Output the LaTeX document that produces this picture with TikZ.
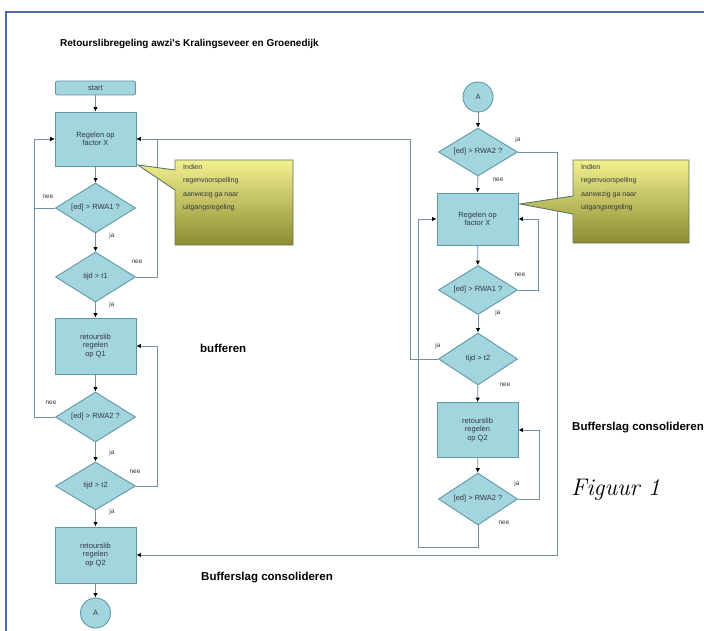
\documentclass[tikz,border=0pt]{standalone}
\usepackage{fontspec}
\newfontfamily\lab{Liberation Sans}
\usetikzlibrary{shapes.geometric,arrows.meta}
\definecolor{nodefill}{HTML}{A3D5DF}
\definecolor{nodeline}{HTML}{5E97A6}
\definecolor{wire}{HTML}{7090A8}
\definecolor{frame}{HTML}{4A6FA5}
\definecolor{calltop}{HTML}{F2F08E}
\definecolor{callbot}{HTML}{8C8C32}
\definecolor{callline}{HTML}{5C7A62}
\definecolor{inktext}{HTML}{333840}
\tikzset{
  boxnode/.style={draw=nodeline,fill=nodefill,line width=0.9pt,inner sep=1pt,align=center,text=inktext,font=\lab\fontsize{7.5}{8.5}\selectfont},
  procbox/.style={boxnode,rectangle,minimum width=81pt,minimum height=54pt},
  startbox/.style={boxnode,rectangle,rounded corners=2pt,minimum width=80pt,minimum height=14pt},
  decide/.style={boxnode,diamond,aspect=1.7,inner sep=0pt,minimum width=80pt,minimum height=50pt},
  conn/.style={boxnode,circle,minimum size=30pt,inner sep=0pt},
  flow/.style={draw=wire,line width=0.9pt,-{Latex[length=4.5pt,width=4.5pt,color=black]}},
  yn/.style={font=\lab\fontsize{6.5}{7}\selectfont,inner sep=0pt,text=inktext},
  heading/.style={font=\lab\bfseries\fontsize{10}{12}\selectfont,inner sep=0pt},
  sidehead/.style={font=\lab\bfseries\fontsize{11.5}{13}\selectfont,inner sep=0pt,anchor=west},
  callout/.style={draw=callline,line width=0.9pt,top color=calltop,bottom color=callbot},
  calltext/.style={font=\lab\fontsize{7}{13.5}\selectfont,align=left,inner sep=0pt,anchor=north west,text=inktext}
}
\begin{document}
\begin{tikzpicture}[x=1pt,y=-1pt]
\useasboundingbox (0,0) rectangle (704,631);
\fill[white] (0,0) rectangle (704,631);
\draw[frame,line width=1.5pt] (6,631) -- (6,12) -- (704,12);

\node[heading,anchor=west] (title) at (60,44) {Retourslibregeling awzi's Kralingseveer en Groenedijk};

% left column
\node[startbox] (Lstart) at (95.5,88) {start};
\node[procbox] (Lreg) at (95.5,139) {Regelen op\\factor X};
\node[decide] (Ld1) at (95.5,208) {[ed] > RWA1 ?};
\node[decide] (Ld2) at (95.5,277) {tijd > t1};
\node[procbox,minimum height=56pt] (Lq1) at (95.5,346) {retourslib\\regelen\\op Q1};
\node[decide] (Ld3) at (95.5,417) {[ed] > RWA2 ?};
\node[decide,minimum height=48pt] (Ld4) at (95.5,486) {tijd > t2};
\node[procbox,minimum height=56pt] (Lq2) at (95.5,555) {retourslib\\regelen\\op Q2};
\node[conn] (LA) at (95.5,613) {A};

% right column
\node[conn] (RA) at (478,97) {A};
\node[decide,minimum width=79pt,minimum height=48pt] (Rd1) at (478,152) {[ed] > RWA2 ?};
\node[procbox,minimum height=52pt] (Rreg) at (477.5,219) {Regelen op\\factor X};
\node[decide,minimum width=79pt,minimum height=49pt] (Rd2) at (478,290) {[ed] > RWA1 ?};
\node[decide,minimum width=79pt,minimum height=52pt] (Rd3) at (478,359) {tijd > t2};
\node[procbox,minimum height=55pt] (Rq2) at (477.5,430) {retourslib\\regelen\\op Q2};
\node[decide,minimum width=79pt,minimum height=52pt] (Rd4) at (478,499) {[ed] > RWA2 ?};

% left connectors
\draw[flow] (Lstart) -- (Lreg);
\draw[flow] (Lreg) -- (Ld1);
\draw[flow] (Ld1) -- (Ld2);
\draw[flow] (Ld1.west) -- (34,208) -- (34,139) -- (Lreg.west);
\draw[flow] (Ld2) -- (Lq1);
\draw[flow] (Ld2.east) -- (157,277) -- (157,139) -- (Lreg.east);
\draw[flow] (Lq1) -- (Ld3);
\draw[flow] (Ld3) -- (Ld4);
\draw[flow] (Ld3.west) -- (34,417) -- (34,139) -- (Lreg.west);
\draw[flow] (Ld4.east) -- (157,486) -- (157,346) -- (Lq1.east);
\draw[flow] (Ld4) -- (Lq2);
\draw[flow] (Lq2) -- (LA);

% right connectors
\draw[flow] (RA) -- (Rd1);
\draw[flow] (Rd1) -- (Rreg);
\draw[flow] (Rd1.east) -- (557,152) -- (557,555) -- (Lq2.east);
\draw[flow] (Rreg) -- (Rd2);
\draw[flow] (Rd2) -- (Rd3);
\draw[flow] (Rd2.east) -- (538,290) -- (538,219) -- (Rreg.east);
\draw[flow] (Rd3.west) -- (410,359) -- (410,139) -- (Lreg.east);
\draw[flow] (Rd3) -- (Rq2);
\draw[flow] (Rq2) -- (Rd4);
\draw[flow] (Rd4.east) -- (539,499) -- (539,430) -- (Rq2.east);
\draw[flow] (Rd4.south) -- (478,547) -- (418,547) -- (418,219) -- (Rreg.west);

% yes / no labels
\node[yn] (l1) at (48,197) {nee};
\node[yn] (l2) at (112,236) {ja};
\node[yn] (l3) at (137,262) {nee};
\node[yn] (l4) at (112,305) {ja};
\node[yn] (l5) at (51,403) {nee};
\node[yn] (l6) at (112,453) {ja};
\node[yn] (l7) at (135,472) {nee};
\node[yn] (l8) at (112,512) {ja};
\node[yn] (r1) at (518,140) {ja};
\node[yn] (r2) at (498,180) {nee};
\node[yn] (r3) at (520,275) {nee};
\node[yn] (r4) at (498,313) {ja};
\node[yn] (r5) at (438,346) {ja};
\node[yn] (r6) at (505,385) {nee};
\node[yn] (r7) at (517,484) {ja};
\node[yn] (r8) at (504,523) {nee};

% callouts
\path[callout] (175,160) -- (293,160) -- (293,245) -- (175,245) -- (175,190) -- (138,165) -- (175,170) -- cycle;
\node[calltext] (c1) at (183,164) {Indien\\regenvoorspelling\\aanwezig ga naar\\uitgangsregeling};
\path[callout] (573,160) -- (689,160) -- (689,243) -- (573,243) -- (573,214) -- (520,204) -- (573,196) -- cycle;
\node[calltext] (c2) at (581,164) {Indien\\regenvoorspelling\\aanwezig ga naar\\uitgangsregeling};

% side texts
\node[sidehead] (t1) at (200,348) {bufferen};
\node[sidehead] (t2) at (201,578) {Bufferslag consolideren};
\node[sidehead] (t3) at (572,428) {Bufferslag consolideren};
\node[anchor=west,inner sep=0pt,font=\itshape\fontsize{24}{24}\selectfont] (fig) at (571,490) {Figuur 1};
\end{tikzpicture}
\end{document}
